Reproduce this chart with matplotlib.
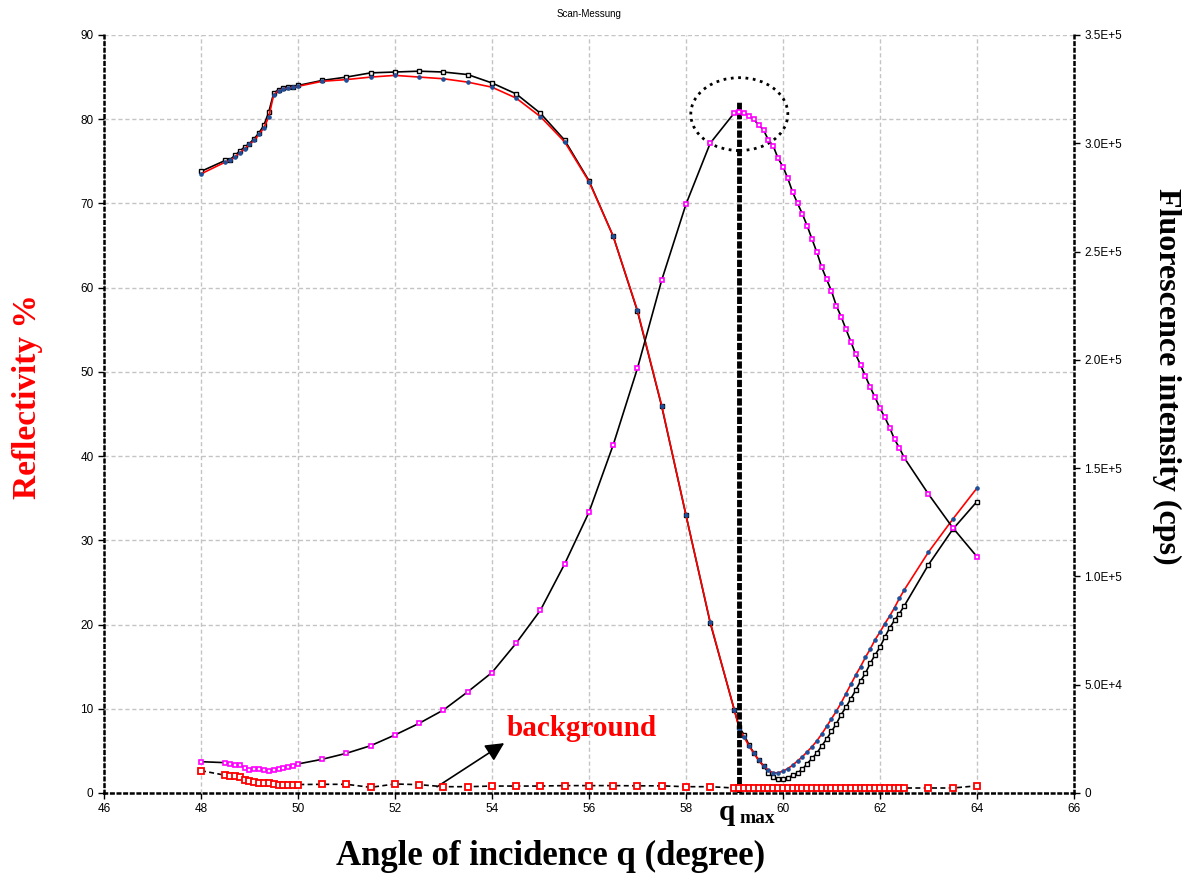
import matplotlib
matplotlib.use('Agg')
import matplotlib.pyplot as plt
from matplotlib.patches import Ellipse

plt.rcParams['font.family'] = 'Liberation Sans'

# scan angles (degree)
angle = [48.0,
         48.5, 48.6, 48.7, 48.8, 48.9, 49.0, 49.1, 49.2, 49.3, 49.4, 49.5, 49.6, 49.7, 49.8, 49.9, 50.0,
         50.5, 51.0, 51.5, 52.0, 52.5, 53.0, 53.5, 54.0, 54.5, 55.0, 55.5, 56.0, 56.5, 57.0, 57.5, 58.0, 58.5, 59.0,
         59.1, 59.2, 59.3, 59.4, 59.5, 59.6, 59.7, 59.8, 59.9, 60.0,
         60.1, 60.2, 60.3, 60.4, 60.5, 60.6, 60.7, 60.8, 60.9, 61.0,
         61.1, 61.2, 61.3, 61.4, 61.5, 61.6, 61.7, 61.8, 61.9, 62.0,
         62.1, 62.2, 62.3, 62.4, 62.5,
         63.0, 63.5, 64.0]

# measured reflectivity (%)
refl_meas = [73.8,
             75.1, 75.2, 75.7, 76.2, 76.7, 77.1, 77.7, 78.4, 79.3, 80.9, 83.1, 83.5, 83.7, 83.8, 83.8, 84.0,
             84.6, 85.0, 85.5, 85.6, 85.7, 85.6, 85.3, 84.3, 83.0, 80.7, 77.5, 72.7, 66.1, 57.2, 45.9, 33.0, 20.2, 9.8,
             7.8, 6.9, 5.7, 4.75, 3.9, 3.2, 2.4, 1.9, 1.7, 1.7,
             1.8, 2.1, 2.4, 2.8, 3.5, 4.1, 4.75, 5.6, 6.4, 7.3,
             8.2, 9.3, 10.2, 11.2, 12.2, 13.3, 14.2, 15.4, 16.4, 17.3,
             18.5, 19.6, 20.5, 21.3, 22.2,
             27.1, 31.3, 34.6]

# calculated reflectivity (%)
refl_calc = [73.5,
             74.9, 75.1, 75.5, 76.0, 76.5, 77.0, 77.5, 78.2, 79.0, 80.3, 82.9, 83.4, 83.6, 83.7, 83.8, 83.9,
             84.5, 84.7, 85.0, 85.2, 85.0, 84.8, 84.4, 83.8, 82.5, 80.3, 77.3, 72.6, 66.1, 57.3, 46.0, 33.0, 20.3, 9.8,
             7.6, 6.6, 5.6, 4.7, 3.9, 3.2, 2.7, 2.4, 2.4, 2.6,
             2.9, 3.3, 3.8, 4.3, 4.9, 5.5, 6.2, 7.0, 7.9, 8.8,
             9.7, 10.7, 11.8, 12.9, 14.0, 15.0, 16.1, 17.1, 18.2, 19.1,
             20.1, 21.0, 22.0, 23.1, 24.1,
             28.6, 32.5, 36.2]

# fluorescence intensity (cps)
fluor = [14450,
         14000, 13400, 12900, 12900, 11700, 10600, 11100, 11100, 10600, 10300, 10600, 11100, 11700, 12200, 12600, 13400,
         15560, 18330, 21840, 26780, 32180, 38320, 46700, 55600, 69200, 84400, 105800, 129600, 160700, 196100,
         236800, 271800, 300000, 314100,
         314600, 314100, 312600, 311000, 308400, 306100, 301500, 298700, 293000, 289200,
         283800, 277400, 272300, 267400, 261800, 255700, 249600, 242700, 237200, 231800,
         225000, 219900, 214100, 208400, 202500, 197600, 192500, 187300, 182700, 177600,
         173500, 168700, 163300, 159400, 154800,
         138000, 122500, 109100]

# background (cps)
backgr = [10300,
          8200, 7800, 7800, 7200, 6200, 5600, 5300, 4700, 4700, 4700, 4300, 3900, 3900, 3900, 3900, 3900,
          4000, 4000, 2600, 4150, 3850, 2900, 2900, 3200, 3200, 3200, 3400, 3400, 3400, 3300, 3300, 2900, 2900, 2300,
          2300, 2300, 2300, 2300, 2300, 2300, 2300, 2300, 2300, 2300,
          2300, 2300, 2300, 2300, 2300, 2300, 2300, 2300, 2300, 2300,
          2300, 2300, 2300, 2300, 2300, 2300, 2300, 2300, 2300, 2300,
          2300, 2300, 2300, 2300, 2300,
          2300, 2300, 3300]

x_ticks = [46, 48, 50, 52, 54, 56, 58, 60, 62, 64, 66]
left_ticks = [0, 10, 20, 30, 40, 50, 60, 70, 80, 90]
right_ticks = [0, 5e4, 1e5, 1.5e5, 2e5, 2.5e5, 3e5, 3.5e5]
right_labels = ['0', '5.0E+4', '1.0E+5', '1.5E+5', '2.0E+5', '2.5E+5', '3.0E+5', '3.5E+5']

q_max = 59.1

fig = plt.figure(figsize=[11.88, 8.74], dpi=100)
ax = fig.add_axes([0.0875, 0.0927, 0.8165, 0.8673])
ax2 = ax.twinx()

# reflectivity on the left axis
ax.plot(angle, refl_meas, color='black', lw=1.2, marker='s', markersize=3.5, markerfacecolor='white',
        markeredgecolor='black', markeredgewidth=1, zorder=3)
ax.plot(angle, refl_calc, color='red', lw=1.2, marker='o', markersize=2.3, markerfacecolor='#1f4f99',
        markeredgecolor='#1f4f99', zorder=4)

# fluorescence + background on the right axis
ax2.plot(angle, fluor, color='black', lw=1.2, marker='s', markersize=3.5, markerfacecolor='white',
         markeredgecolor='magenta', markeredgewidth=1.2)
ax2.plot(angle, backgr, color='black', lw=1.2, linestyle=(0, (3, 2)), marker='s', markersize=5,
         markerfacecolor='white', markeredgecolor='red', markeredgewidth=1.3)

# q max marker
ax.plot([q_max, q_max], [0, 82.1], color='black', lw=3.5, linestyle=(0, (1.5, 0.4)), zorder=5)
ax.add_patch(Ellipse((q_max, 80.6), 2.0, 8.66, fill=False, linestyle=':', lw=2, edgecolor='black'))

ax.annotate('', xy=(54.3, 6.1), xytext=(52.82, 0.56),
            arrowprops=dict(arrowstyle='-|>', color='black', lw=1.2, mutation_scale=28))
ax.text(54.31, 7.7, 'background', color='red', fontsize=21, weight='bold', family='Liberation Serif', va='center')

ax.set_xlim([46, 66])
ax.set_ylim([0, 90])
ax2.set_ylim([0, 3.5e5])
ax.set_xticks(x_ticks)
ax.set_xticklabels([str(t) for t in x_ticks])
ax.set_yticks(left_ticks)
ax.set_yticklabels([str(t) for t in left_ticks])
ax2.set_yticks(right_ticks)
ax2.set_yticklabels(right_labels)

ax.grid(True, color='#c4c4c4', linestyle=(0, (3, 2)), linewidth=1)
ax.set_axisbelow(True)
ax.tick_params(direction='out', length=4, width=1, labelsize=8.5, colors='black')
ax2.tick_params(direction='out', length=4, width=1, labelsize=8.5, colors='black')

for a in (ax, ax2):
    a.spines['top'].set_visible(False)
    for s in ('left', 'right', 'bottom'):
        a.spines[s].set_linestyle(':')
        a.spines[s].set_linewidth(1.8)
ax2.spines['left'].set_visible(False)
ax2.spines['bottom'].set_visible(False)
ax.spines['right'].set_visible(False)

fig.text(0.496, 1 - 14 / 874, 'Scan-Messung', ha='center', va='center', fontsize=7)
fig.text(0.4638, 1 - 865 / 874, 'Angle of incidence q (degree)', ha='center', va='baseline',
         family='Liberation Serif', weight='bold', fontsize=25)
fig.text(0.023, 0.546, 'Reflectivity %', ha='center', va='center', rotation=90, color='red',
         family='Liberation Serif', weight='bold', fontsize=24)
fig.text(0.982, 0.570, 'Fluorescence intensity (cps)', ha='center', va='center', rotation=270,
         family='Liberation Serif', weight='bold', fontsize=23)
fig.text(719 / 1188, 1 - 820 / 874, 'q', va='baseline', ha='left',
         family='Liberation Serif', weight='bold', fontsize=21)
fig.text(739 / 1188, 1 - 823 / 874, 'max', va='baseline', ha='left',
         family='Liberation Serif', weight='bold', fontsize=14)

fig.savefig('out.png', dpi=100)
